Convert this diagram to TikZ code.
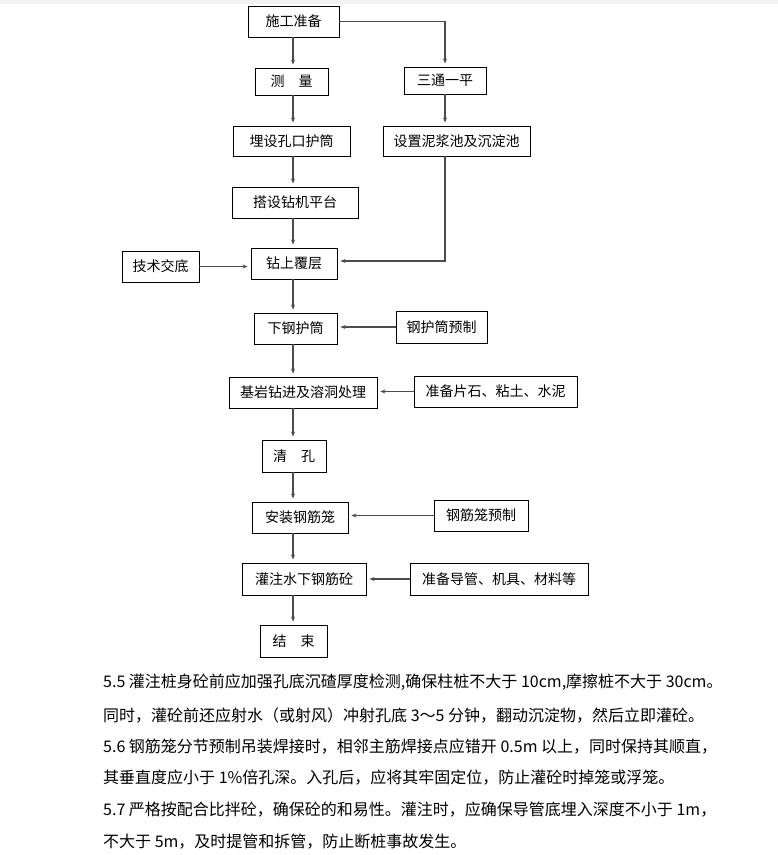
\documentclass[tikz,border=0pt]{standalone}
\usepackage{fontspec}
\setmainfont{Noto Sans CJK SC}
\usetikzlibrary{arrows.meta,calc}

\begin{document}
\begin{tikzpicture}[x=1pt,y=-1pt,>={Stealth[length=5pt,width=4pt]},
  box/.style={draw,line width=0.9pt,inner sep=0pt,font=\fontsize{14pt}{16pt}\selectfont},
  flow/.style={->,draw=black!70,line width=1.3pt,shorten >=3pt},
  para/.style={anchor=west,inner sep=0pt,font=\fontsize{16pt}{18pt}\selectfont}]
\useasboundingbox (0,0) rectangle (778,855);
\fill[black!5] (0,0) rectangle (778,4);
\coordinate (spine) at (293,0);
% main column
\node[box,minimum width=91pt,minimum height=31pt] (prep) at (293.5,21.5) {施工准备};
\node[box,minimum width=73pt,minimum height=27pt] (survey) at (291.5,81.5) {测\hspace{1em}量};
\node[box,minimum width=117pt,minimum height=30pt] (casing) at (291.5,141) {埋设孔口护筒};
\node[box,minimum width=126pt,minimum height=31pt] (platform) at (295,202.5) {搭设钻机平台};
\node[box,minimum width=86pt,minimum height=31pt] (drill) at (294,263.5) {钻上覆层};
\node[box,minimum width=83pt,minimum height=31pt] (steel) at (295.5,328.5) {下钢护筒};
\node[box,minimum width=148pt,minimum height=31pt] (rock) at (303,392.5) {基岩钻进及溶洞处理};
\node[box,minimum width=64pt,minimum height=32pt] (clean) at (294,456) {清\hspace{1em}孔};
\node[box,minimum width=96pt,minimum height=31pt] (cage) at (300,517.5) {安装钢筋笼};
\node[box,minimum width=124pt,minimum height=32pt] (pour) at (304,579) {灌注水下钢筋砼};
\node[box,minimum width=67pt,minimum height=32pt] (finish) at (293.5,641) {结\hspace{1em}束};
% side boxes
\node[box,minimum width=82pt,minimum height=27pt] (road) at (445,80.5) {三通一平};
\node[box,minimum width=147pt,minimum height=30pt] (pool) at (456.5,141) {设置泥浆池及沉淀池};
\node[box,minimum width=77pt,minimum height=31pt] (brief) at (160.5,266.5) {技术交底};
\node[box,minimum width=91pt,minimum height=32pt] (steelpre) at (441.5,327) {钢护筒预制};
\node[box,minimum width=163pt,minimum height=31pt] (stone) at (495.5,391.5) {准备片石、粘土、水泥};
\node[box,minimum width=94pt,minimum height=31pt] (cagepre) at (481,515.5) {钢筋笼预制};
\node[box,minimum width=178pt,minimum height=32pt] (tools) at (499,579) {准备导管、机具、材料等};
% connectors
\foreach \a/\b in {prep/survey,survey/casing,casing/platform,platform/drill,drill/steel,
  steel/rock,rock/clean,clean/cage,cage/pour,pour/finish}
  \draw[flow] (\a.south -| spine) -- (\b.north -| spine);
\foreach \a/\b in {steelpre/steel,stone/rock,cagepre/cage,tools/pour}
  \draw[flow] (\a.west) -- (\a.west -| \b.east);
\draw[flow] (prep.east) -| (road.north);
\draw[flow] (road.south) -- (road.south |- pool.north);
\draw[flow] (pool.south -| road) |- ([yshift=2.5pt]drill.east);
\draw[flow] (brief.east) -- (brief.east -| drill.west);
% notes
\node[para] (p1) at (103,682) {5.5 灌注桩身砼前应加强孔底沉碴厚度检测,确保柱桩不大于 10cm,摩擦桩不大于 30cm。};
\node[para] (p2) at (103,715) {同时，灌砼前还应射水（或射风）冲射孔底 3～5 分钟，翻动沉淀物，然后立即灌砼。};
\node[para] (p3) at (103,747) {5.6 钢筋笼分节预制吊装焊接时，相邻主筋焊接点应错开 0.5m 以上，同时保持其顺直，};
\node[para] (p4) at (103,778) {其垂直度应小于 1\%倍孔深。入孔后，应将其牢固定位，防止灌砼时掉笼或浮笼。};
\node[para] (p5) at (103,810) {5.7 严格按配合比拌砼，确保砼的和易性。灌注时，应确保导管底埋入深度不小于 1m，};
\node[para] (p6) at (103,842) {不大于 5m，及时提管和拆管，防止断桩事故发生。};
\end{tikzpicture}
\end{document}
